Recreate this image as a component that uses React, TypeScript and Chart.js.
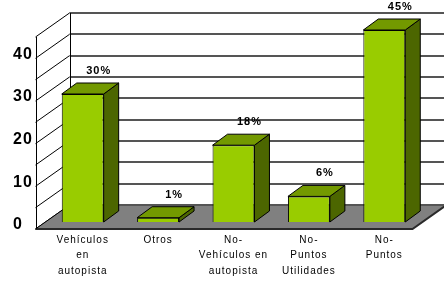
import React, { useEffect, useRef } from 'react';
import { Chart, registerables } from 'chart.js';

Chart.register(...registerables);

// ---- data ----
const categories: string[][] = [
  ['Vehículos', 'en', 'autopista'],
  ['Otros'],
  ['No-', 'Vehículos en', 'autopista'],
  ['No-', 'Puntos', 'Utilidades'],
  ['No-', 'Puntos'],
];
const values: number[] = [30, 1, 18, 6, 45];
const valueLabels: string[] = values.map((v) => `${v}%`);
const yTickValues: number[] = [0, 10, 20, 30, 40];
const wallGridValues: number[] = [0, 5, 10, 15, 20, 25, 30, 35, 40, 45];
const yMax = 45;

// ---- 3D geometry (offsets relative to the bar front plane) ----
const FRONT = { dx: -9.5, dy: 7 };
const BACK = { dx: 24.5, dy: -17 };
const BAR_DEPTH = { dx: 15, dy: -11 };

const COLORS = {
  front: '#99CC00',
  top: '#739900',
  side: '#4C6600',
  floor: '#808080',
  wallGrid: '#555555',
};

const threeD = {
  id: 'threeD',
  beforeDraw(chart: any) {
    chart.ctx.letterSpacing = '1px';
  },
  beforeDatasetsDraw(chart: any) {
    const { ctx, chartArea: ca } = chart;
    const y = chart.scales.y;
    const y0 = y.getPixelForValue(0);
    const yT = y.getPixelForValue(yMax);
    ctx.save();
    ctx.letterSpacing = '0px';

    // back wall gridlines
    ctx.strokeStyle = COLORS.wallGrid;
    ctx.lineWidth = 2;
    wallGridValues.forEach((v) => {
      const py = Math.round(y.getPixelForValue(v) + BACK.dy);
      ctx.beginPath();
      ctx.moveTo(ca.left + BACK.dx, py);
      ctx.lineTo(chart.width + 5, py);
      ctx.stroke();
    });

    // left wall
    const fl = ca.left + FRONT.dx;
    const bl = ca.left + BACK.dx;
    ctx.fillStyle = '#ffffff';
    ctx.beginPath();
    ctx.moveTo(fl, y0 + FRONT.dy);
    ctx.lineTo(fl, yT + FRONT.dy);
    ctx.lineTo(bl, yT + BACK.dy);
    ctx.lineTo(bl, y0 + BACK.dy);
    ctx.closePath();
    ctx.fill();
    ctx.strokeStyle = '#000';
    ctx.lineWidth = 1;
    wallGridValues.forEach((v) => {
      const py = y.getPixelForValue(v);
      ctx.beginPath();
      ctx.moveTo(fl, py + FRONT.dy);
      ctx.lineTo(bl, py + BACK.dy);
      ctx.stroke();
    });
    ctx.beginPath();
    ctx.moveTo(Math.round(fl) + 0.5, y0 + FRONT.dy);
    ctx.lineTo(Math.round(fl) + 0.5, yT + FRONT.dy);
    ctx.moveTo(Math.round(bl) + 0.5, y0 + BACK.dy);
    ctx.lineTo(Math.round(bl) + 0.5, yT + BACK.dy);
    ctx.stroke();

    // floor
    const fr = ca.right + FRONT.dx;
    const br = ca.right + BACK.dx;
    ctx.fillStyle = COLORS.floor;
    ctx.beginPath();
    ctx.moveTo(fl, y0 + FRONT.dy);
    ctx.lineTo(fr, y0 + FRONT.dy);
    ctx.lineTo(br, y0 + BACK.dy);
    ctx.lineTo(bl, y0 + BACK.dy);
    ctx.closePath();
    ctx.fill();
    ctx.strokeStyle = '#2a2a2a';
    ctx.lineWidth = 2;
    ctx.beginPath();
    ctx.moveTo(fl, y0 + FRONT.dy);
    ctx.lineTo(fr, y0 + FRONT.dy);
    ctx.lineTo(br, y0 + BACK.dy);
    ctx.stroke();
    ctx.strokeStyle = COLORS.wallGrid;
    ctx.beginPath();
    ctx.moveTo(bl, Math.round(y0 + BACK.dy));
    ctx.lineTo(chart.width + 5, Math.round(y0 + BACK.dy));
    ctx.stroke();
    ctx.strokeStyle = '#000';
    ctx.lineWidth = 1;
    ctx.beginPath();
    ctx.moveTo(fl, y0 + FRONT.dy);
    ctx.lineTo(bl, y0 + BACK.dy);
    ctx.stroke();

    // bar top and side faces
    const meta = chart.getDatasetMeta(0);
    meta.data.forEach((bar: any) => {
      const { x, y: top, base, width } = bar.getProps(['x', 'y', 'base', 'width'], true);
      const l = x - width / 2;
      const r = x + width / 2;
      ctx.lineWidth = 1;
      ctx.strokeStyle = '#000';
      // side
      ctx.fillStyle = COLORS.side;
      ctx.beginPath();
      ctx.moveTo(r, top);
      ctx.lineTo(r + BAR_DEPTH.dx, top + BAR_DEPTH.dy);
      ctx.lineTo(r + BAR_DEPTH.dx, base + BAR_DEPTH.dy);
      ctx.lineTo(r, base);
      ctx.closePath();
      ctx.fill();
      ctx.stroke();
      // top
      ctx.fillStyle = COLORS.top;
      ctx.beginPath();
      ctx.moveTo(l, top);
      ctx.lineTo(r, top);
      ctx.lineTo(r + BAR_DEPTH.dx, top + BAR_DEPTH.dy);
      ctx.lineTo(l + BAR_DEPTH.dx, top + BAR_DEPTH.dy);
      ctx.closePath();
      ctx.fill();
      ctx.stroke();
    });
    ctx.restore();
  },
  afterDatasetsDraw(chart: any) {
    const { ctx } = chart;
    const meta = chart.getDatasetMeta(0);
    ctx.save();
    ctx.letterSpacing = '1px';
    ctx.font = 'bold 11px Arial, "Liberation Sans", sans-serif';
    ctx.fillStyle = '#000';
    ctx.textAlign = 'center';
    ctx.textBaseline = 'middle';
    meta.data.forEach((bar: any, i: number) => {
      const { x, y } = bar.getProps(['x', 'y'], true);
      ctx.fillText(valueLabels[i], x + 16, y - 23);
    });
    ctx.restore();
  },
  afterDraw(chart: any) {
    chart.ctx.letterSpacing = '0px';
  },
};

export default function App() {
  const ref = useRef<HTMLCanvasElement | null>(null);
  useEffect(() => {
    if (!ref.current) return;
    const chart = new Chart(ref.current, {
      type: 'bar',
      data: {
        labels: categories,
        datasets: [
          {
            data: values,
            backgroundColor: COLORS.front,
            borderColor: '#000',
            borderWidth: 1,
            categoryPercentage: 1,
            barPercentage: 0.556,
          },
        ],
      },
      options: {
        responsive: false,
        animation: false,
        layout: { padding: { left: 13, right: 22, top: 30, bottom: 0 } },
        plugins: { legend: { display: false }, tooltip: { enabled: false } },
        scales: {
          x: {
            grid: { display: false, drawTicks: false },
            border: { display: false },
            ticks: {
              color: '#000',
              padding: 10,
              maxRotation: 0,
              autoSkip: false,
              font: { family: 'Arial, "Liberation Sans", sans-serif', size: 10, lineHeight: 1.55 },
            },
            afterFit: (s: any) => {
              s.height = 59;
            },
          },
          y: {
            min: 0,
            max: yMax,
            grid: { display: false, drawTicks: false },
            border: { display: false },
            afterBuildTicks: (s: any) => {
              s.ticks = yTickValues.map((v) => ({ value: v }));
            },
            ticks: {
              color: '#000',
              crossAlign: 'far',
              padding: 0,
              labelOffset: 3,
              font: { family: 'Arial, "Liberation Sans", sans-serif', size: 16, weight: 'bold' },
            },
            afterFit: (s: any) => {
              s.width = 32;
            },
          },
        },
      },
      plugins: [threeD],
    } as any);
    return () => chart.destroy();
  }, []);
  return (
    <div style={{ position: 'fixed', left: 0, top: 0, width: 444, height: 281, background: '#fff' }}>
      <canvas ref={ref} width={444} height={281} />
    </div>
  );
}
